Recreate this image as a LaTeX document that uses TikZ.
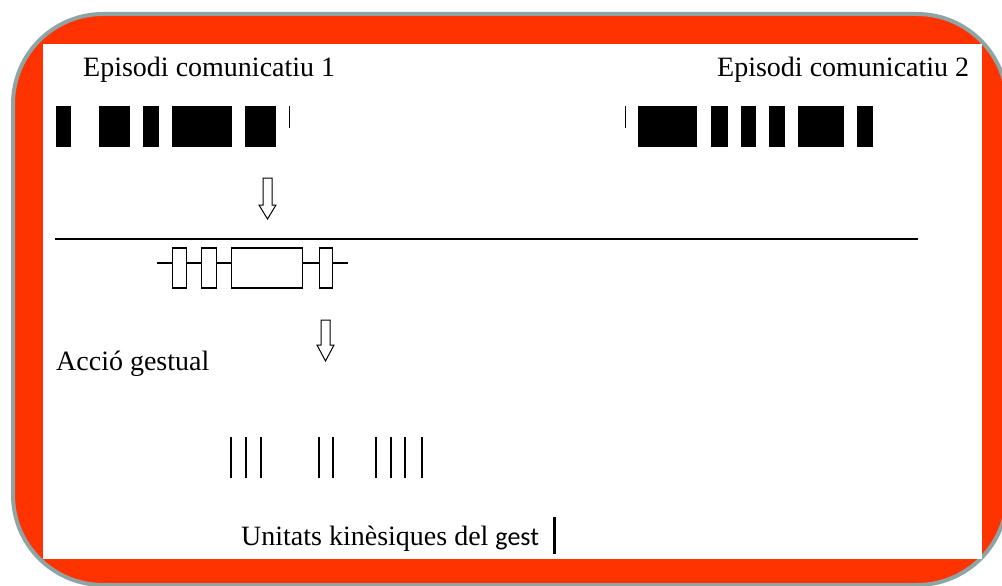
\documentclass[tikz,border=0pt]{standalone}
\usepackage{fontspec}
\setmainfont{Liberation Serif}
\newfontfamily\calibrifont{Carlito}
\usetikzlibrary{positioning}
\definecolor{frame red}{RGB}{255,51,0}
\definecolor{frame gray}{RGB}{143,165,165}
\tikzset{bar node/.style={fill=black, minimum height=41pt, inner sep=0pt, anchor=north west},}
\tikzset{gesture box/.style={draw, line width=1.1pt, minimum height=40pt, inner sep=0pt},}
\tikzset{label text/.style={font=\fontsize{28}{32}\selectfont, inner sep=0pt, anchor=base west},}
\tikzset{hollow arrow/.style={draw, line width=1pt, fill=white, line join=miter},}

\begin{document}
\begin{tikzpicture}[x=1pt, y=-1pt]
     \useasboundingbox (0,0) rectangle (1002,586);
     \fill[white] (0,0) rectangle (1002,586);
     \draw[frame gray, fill=frame red, line width=4pt, rounded corners=90pt] (13,14) rectangle (1007,585);
     \fill[white] (43,44) rectangle (982,559);

     % episodes
     \node[label text] (ep1) at (83,77) {Episodi comunicatiu 1};
     \node[label text] (ep2) at (717,77) {Episodi comunicatiu 2};
     \foreach \x/\w [count=\i] in {56/15pt, 99/31pt, 143/16pt, 172/60pt, 245/31pt}
        \node[bar node, minimum width=\w] (a\i) at (\x,106) {};
     \foreach \x/\w [count=\i] in {638/59pt, 711/17pt, 741/15pt, 769/16pt, 798/46pt, 857/16pt}
        \node[bar node, minimum width=\w] (b\i) at (\x,106) {};
     \draw[line width=1pt] (289,106) -- (289,128);
     \draw[line width=1pt] (625,106) -- (625,128);

     \draw[hollow arrow] (263,178) -- (272,178) -- (272,205) -- (276,205) -- (267.5,219) -- (259,205) -- (263,205) -- cycle;
     \draw[line width=1.8pt] (55,239) -- (918,239);

     % gestual action
     \node[gesture box, minimum width=14pt] (g1) at (179.5,268) {};
     \node[gesture box, minimum width=15pt] (g2) at (209,268) {};
     \node[gesture box, minimum width=71pt] (g3) at (267,268) {};
     \node[gesture box, minimum width=13pt] (g4) at (326,268) {};
     \coordinate (gin) at (157,263);
     \coordinate (gout) at (348,263);
     \draw[line width=1.1pt]
     (gin) -- ([yshift=5pt]g1.west)
     ([yshift=5pt]g1.east) -- ([yshift=5pt]g2.west)
     ([yshift=5pt]g2.east) -- ([yshift=5pt]g3.west)
     ([yshift=5pt]g3.east) -- ([yshift=5pt]g4.west)
     ([yshift=5pt]g4.east) -- (gout);

     \draw[hollow arrow] (321,320) -- (330,320) -- (330,345) -- (334,345) -- (325.5,361) -- (317,345) -- (321,345) -- cycle;
     \node[label text] (acc) at (56,370) {Acció gestual};

     % kinesic units
     \foreach \x in {231,246,261,319,333,376,391,405,422}
        \draw[line width=1.2pt] (\x,437) -- (\x,478);
     \node[label text] (uni) at (241,545) {Unitats kinèsiques del {\calibrifont\fontsize{26}{30}\selectfont gest}};
     \draw[line width=3pt] (554,517) -- (554,554);
\end{tikzpicture}
\end{document}
